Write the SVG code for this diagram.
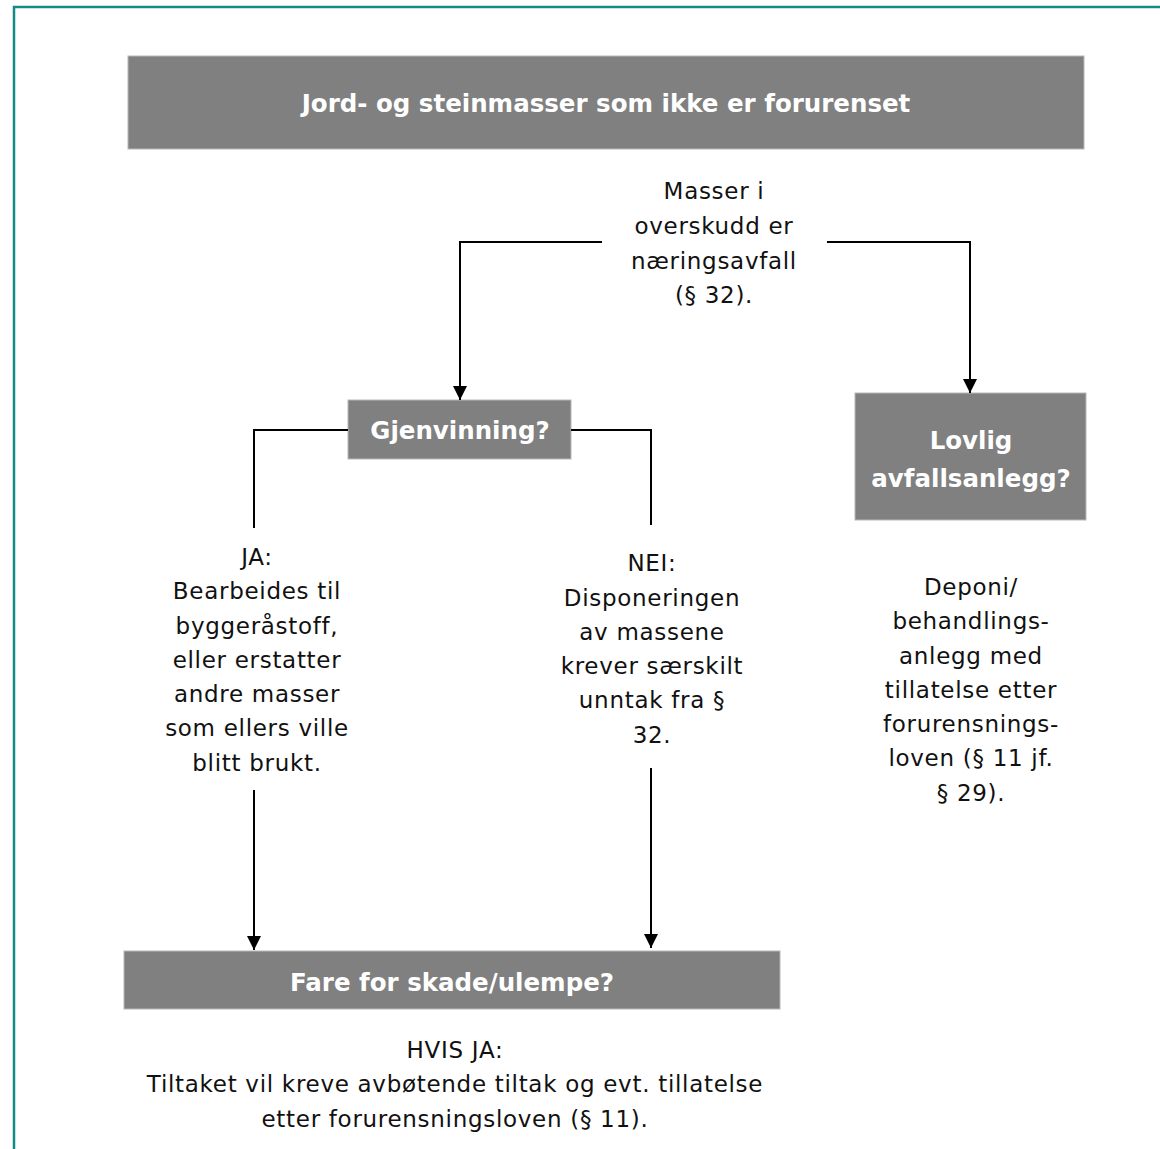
<svg xmlns="http://www.w3.org/2000/svg" width="1160" height="1149" viewBox="0 0 1160 1149">
<defs>
<marker id="ah" markerWidth="14" markerHeight="14" refX="14" refY="7" orient="auto" markerUnits="userSpaceOnUse" viewBox="0 0 14 14">
<path d="M0,0 L14,7 L0,14 Z" fill="#000"/>
</marker>
<style>
.box{fill:#808080;stroke:#b8b8b8;stroke-width:1}
.bt{font-family:"DejaVu Sans",sans-serif;font-weight:bold;fill:#fff;text-anchor:middle}
.t{font-family:"DejaVu Sans",sans-serif;font-size:23px;letter-spacing:0.7px;fill:#111;text-anchor:middle}
.c{fill:none;stroke:#000;stroke-width:2}
</style>
</defs>
<rect width="1160" height="1149" fill="#fff"/>
<path d="M14,1149 V7 H1160" fill="none" stroke="#138a86" stroke-width="2.5"/>

<g id="title">
<rect class="box" x="128" y="56" width="956" height="93"/>
<text class="bt" x="606" y="112" font-size="24.5">Jord- og steinmasser som ikke er forurenset</text>
</g>

<g id="masser">
<text class="t"><tspan x="714" y="199">Masser i</tspan><tspan x="714" y="234">overskudd er</tspan><tspan x="714" y="269">næringsavfall</tspan><tspan x="714" y="303">(§ 32).</tspan></text>
</g>

<g id="gjenvinning">
<rect class="box" x="348" y="400" width="223" height="59"/>
<text class="bt" x="460" y="439" font-size="24.5">Gjenvinning?</text>
</g>

<g id="lovlig">
<rect class="box" x="855" y="393" width="231" height="127"/>
<text class="bt" font-size="24.5"><tspan x="971" y="449">Lovlig</tspan><tspan x="971" y="487">avfallsanlegg?</tspan></text>
</g>

<g id="ja">
<text class="t"><tspan x="257" y="565">JA:</tspan><tspan x="257" y="599">Bearbeides til</tspan><tspan x="257" y="634">byggeråstoff,</tspan><tspan x="257" y="668">eller erstatter</tspan><tspan x="257" y="702">andre masser</tspan><tspan x="257" y="736">som ellers ville</tspan><tspan x="257" y="771">blitt brukt.</tspan></text>
</g>

<g id="nei">
<text class="t"><tspan x="652" y="571">NEI:</tspan><tspan x="652" y="606">Disponeringen</tspan><tspan x="652" y="640">av massene</tspan><tspan x="652" y="674">krever særskilt</tspan><tspan x="652" y="708">unntak fra §</tspan><tspan x="652" y="743">32.</tspan></text>
</g>

<g id="deponi">
<text class="t"><tspan x="971" y="595">Deponi/</tspan><tspan x="971" y="629">behandlings-</tspan><tspan x="971" y="664">anlegg med</tspan><tspan x="971" y="698">tillatelse etter</tspan><tspan x="971" y="732">forurensnings-</tspan><tspan x="971" y="766">loven (§ 11 jf.</tspan><tspan x="971" y="801">§ 29).</tspan></text>
</g>

<g id="fare">
<rect class="box" x="124" y="951" width="656" height="58"/>
<text class="bt" x="452" y="991" font-size="24.5">Fare for skade/ulempe?</text>
</g>

<g id="hvis">
<text class="t"><tspan x="455" y="1058">HVIS JA:</tspan><tspan x="455" y="1092">Tiltaket vil kreve avbøtende tiltak og evt. tillatelse</tspan><tspan x="455" y="1127">etter forurensningsloven (§ 11).</tspan></text>
</g>

<g id="connectors">
<path class="c" d="M602,242 H460 V400" marker-end="url(#ah)"/>
<path class="c" d="M827,242 H970 V393" marker-end="url(#ah)"/>
<path class="c" d="M348,430 H254 V528"/>
<path class="c" d="M571,430 H651 V525"/>
<path class="c" d="M254,790 V950" marker-end="url(#ah)"/>
<path class="c" d="M651,768 V948" marker-end="url(#ah)"/>
</g>
</svg>
